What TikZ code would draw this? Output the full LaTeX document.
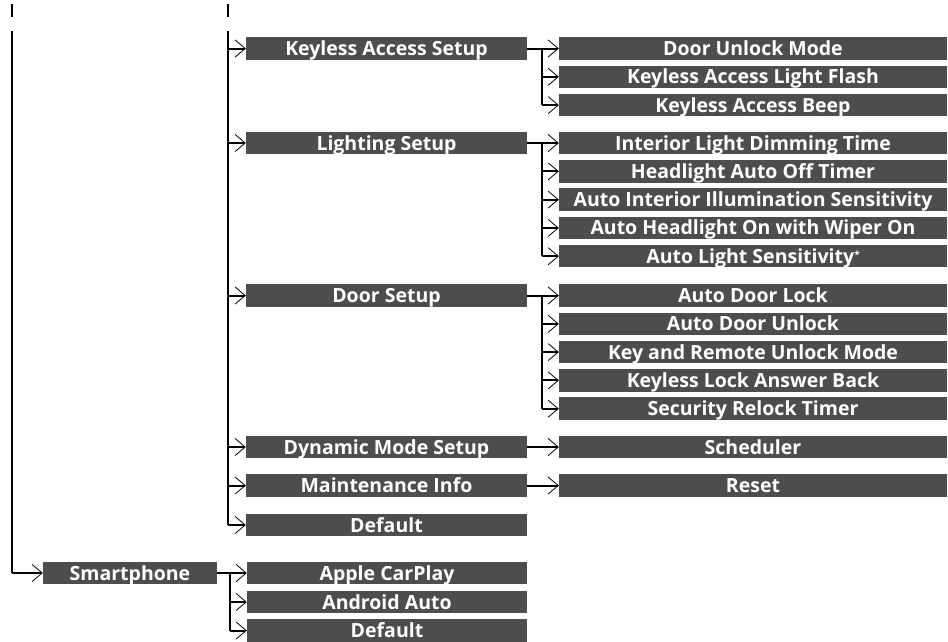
\documentclass[tikz,border=0pt]{standalone}
\usepackage{fontspec}
\setmainfont{Open Sans}
\usetikzlibrary{arrows.meta}
\definecolor{boxgray}{RGB}{77,77,77}
\begin{document}
\begin{tikzpicture}[x=1pt,y=-1pt,
  every node/.style={font=\bfseries\fontsize{19.5}{20}\selectfont, text=white},
  box/.style={fill=boxgray, minimum height=22.5pt, inner sep=0pt, text height=16pt, text depth=2pt, anchor=center},
  lvone/.style={box, minimum width=281pt},
  lvtwo/.style={box, minimum width=388pt},
  smart/.style={box, minimum width=174pt},
  conn/.style={line width=2pt, black},
  arr/.style={conn, -{Straight Barb[length=10pt,width=17pt,line width=0.8pt]}}
]
\useasboundingbox (0,0) rectangle (948,641);
% level 1
\node[lvone] (ka) at (386.5,48.5) {Keyless Access Setup};
\node[lvone] (ls) at (386.5,143) {Lighting Setup};
\node[lvone] (ds) at (386.5,295.5) {Door Setup};
\node[lvone] (dm) at (386.5,447) {Dynamic Mode Setup};
\node[lvone] (mi) at (386.5,485.5) {Maintenance Info};
\node[lvone] (df) at (386.5,525) {Default};
% keyless children
\node[lvtwo] (k1) at (753,48.5) {Door Unlock Mode};
\node[lvtwo] (k2) at (753,76.8) {Keyless Access Light Flash};
\node[lvtwo] (k3) at (753,105.1) {Keyless Access Beep};
% lighting children
\node[lvtwo] (l1) at (753,143) {Interior Light Dimming Time};
\node[lvtwo] (l2) at (753,171.3) {Headlight Auto Off Timer};
\node[lvtwo] (l3) at (753,199.6) {Auto Interior Illumination Sensitivity};
\node[lvtwo] (l4) at (753,227.9) {Auto Headlight On with Wiper On};
\node[lvtwo] (l5) at (753,256.2) {Auto Light Sensitivity\raisebox{0.4ex}{\fontsize{10}{10}\selectfont *}};
% door children
\node[lvtwo] (d1) at (753,295.5) {Auto Door Lock};
\node[lvtwo] (d2) at (753,323.8) {Auto Door Unlock};
\node[lvtwo] (d3) at (753,352.1) {Key and Remote Unlock Mode};
\node[lvtwo] (d4) at (753,380.4) {Keyless Lock Answer Back};
\node[lvtwo] (d5) at (753,408.7) {Security Relock Timer};
% dynamic / maintenance children
\node[lvtwo] (dm1) at (753,447) {Scheduler};
\node[lvtwo] (mi1) at (753,485.5) {Reset};
% smartphone
\node[smart] (sp) at (130,573) {Smartphone};
\node[lvone, minimum width=280pt] (s1) at (387,573) {Apple CarPlay};
\node[lvone, minimum width=280pt] (s2) at (387,602) {Android Auto};
\node[lvone, minimum width=280pt] (s3) at (387,630.5) {Default};

% coordinates for trunk lines
\coordinate (t0a) at (12,4);
\coordinate (t0b) at (12,17);
\coordinate (t1a) at (228,4);
\coordinate (t1b) at (228,17);
\coordinate (m0) at (12,31);
\coordinate (m1) at (228,31);
\draw[line width=1.6pt] (t0a) -- (t0b);
\draw[line width=1.6pt] (t1a) -- (t1b);

% main trunk x=228
\draw[conn] (m1) -- (228,525);
\foreach \n in {ka,ls,ds,dm,mi,df} \draw[arr] (228,0 |- \n.west) -- (\n.west);

% left trunk x=12
\draw[conn] (m0) -- (12,573);
\draw[arr] (12,0 |- sp.west) -- (sp.west);

% keyless branch
\draw[conn] (ka.east) -- (542,0 |- ka.east);
\draw[conn] (542,0 |- k1.west) -- (542,0 |- k3.west);
\foreach \n in {k1,k2,k3} \draw[arr] (542,0 |- \n.west) -- (\n.west);

% lighting branch
\draw[conn] (ls.east) -- (542,0 |- ls.east);
\draw[conn] (542,0 |- l1.west) -- (542,0 |- l5.west);
\foreach \n in {l1,l2,l3,l4,l5} \draw[arr] (542,0 |- \n.west) -- (\n.west);

% door branch
\draw[conn] (ds.east) -- (542,0 |- ds.east);
\draw[conn] (542,0 |- d1.west) -- (542,0 |- d5.west);
\foreach \n in {d1,d2,d3,d4,d5} \draw[arr] (542,0 |- \n.west) -- (\n.west);

% dynamic, maintenance
\draw[arr] (dm.east) -- (dm1.west);
\draw[arr] (mi.east) -- (mi1.west);

% smartphone branch
\draw[conn] (sp.east) -- (230,0 |- sp.east);
\draw[conn] (230,0 |- s1.west) -- (230,0 |- s3.west);
\foreach \n in {s1,s2,s3} \draw[arr] (230,0 |- \n.west) -- (\n.west);
\end{tikzpicture}
\end{document}
